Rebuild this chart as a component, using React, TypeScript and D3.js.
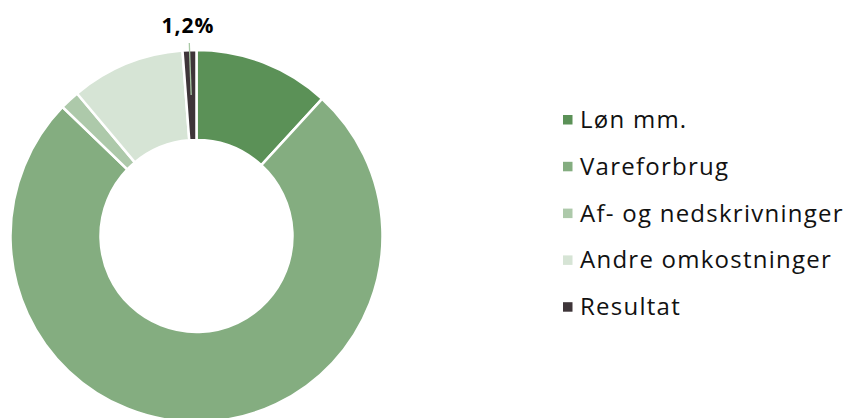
import React from "react";
import * as d3 from "d3";

const categories = ["Løn mm.", "Vareforbrug", "Af- og nedskrivninger", "Andre omkostninger", "Resultat"];
const values = [11.8, 75.4, 1.7, 9.9, 1.2];
const colors = ["#5B9157", "#84AD80", "#ADC9AA", "#D6E4D5", "#3E3539"];
const labelText = "1,2%";

export default function App() {
  const width = 849;
  const height = 418;
  const cx = 196.5;
  const cy = 236;
  const outerR = 186;
  const innerR = 96;

  const pie = d3.pie<number>().sort(null).value((d) => d).startAngle(0).endAngle(2 * Math.PI);
  const arcs = pie(values);
  const arc = d3.arc<d3.PieArcDatum<number>>().innerRadius(innerR).outerRadius(outerR);

  const res = arcs[4];
  const mid = (res.startAngle + res.endAngle) / 2;
  const lineEnd = [Math.sin(mid) * (innerR + 45) + cx, -Math.cos(mid) * (innerR + 45) + cy];

  const legendX = 563;
  const legendY0 = 128;
  const legendStep = 46.8;

  return (
    <svg width={width} height={height} style={{ position: "absolute", left: 0, top: 0 }}>
      <rect width={width} height={height} fill="#ffffff" />
      <g transform={`translate(${cx},${cy})`}>
        {arcs.map((a, i) => (
          <path key={i} d={arc(a) || ""} fill={colors[i]} stroke="#ffffff" strokeWidth={2.5} />
        ))}
      </g>
      <line x1={189.3} y1={43} x2={lineEnd[0]} y2={lineEnd[1]} stroke="#A9C9A5" strokeWidth={1.3} />
      <text x={188} y={33} textAnchor="middle" fontFamily="'Open Sans', sans-serif" fontWeight={700} fontSize={21} letterSpacing={1} fill="#000">
        {labelText}
      </text>
      {categories.map((c, i) => (
        <g key={c} transform={`translate(${legendX},${legendY0 + i * legendStep})`}>
          <rect x={0} y={-13} width={9.5} height={9.5} fill={colors[i]} />
          <text x={17} y={0} fontFamily="'Open Sans', sans-serif" fontSize={24} letterSpacing={1.25} fill="#111">
            {c}
          </text>
        </g>
      ))}
    </svg>
  );
}
